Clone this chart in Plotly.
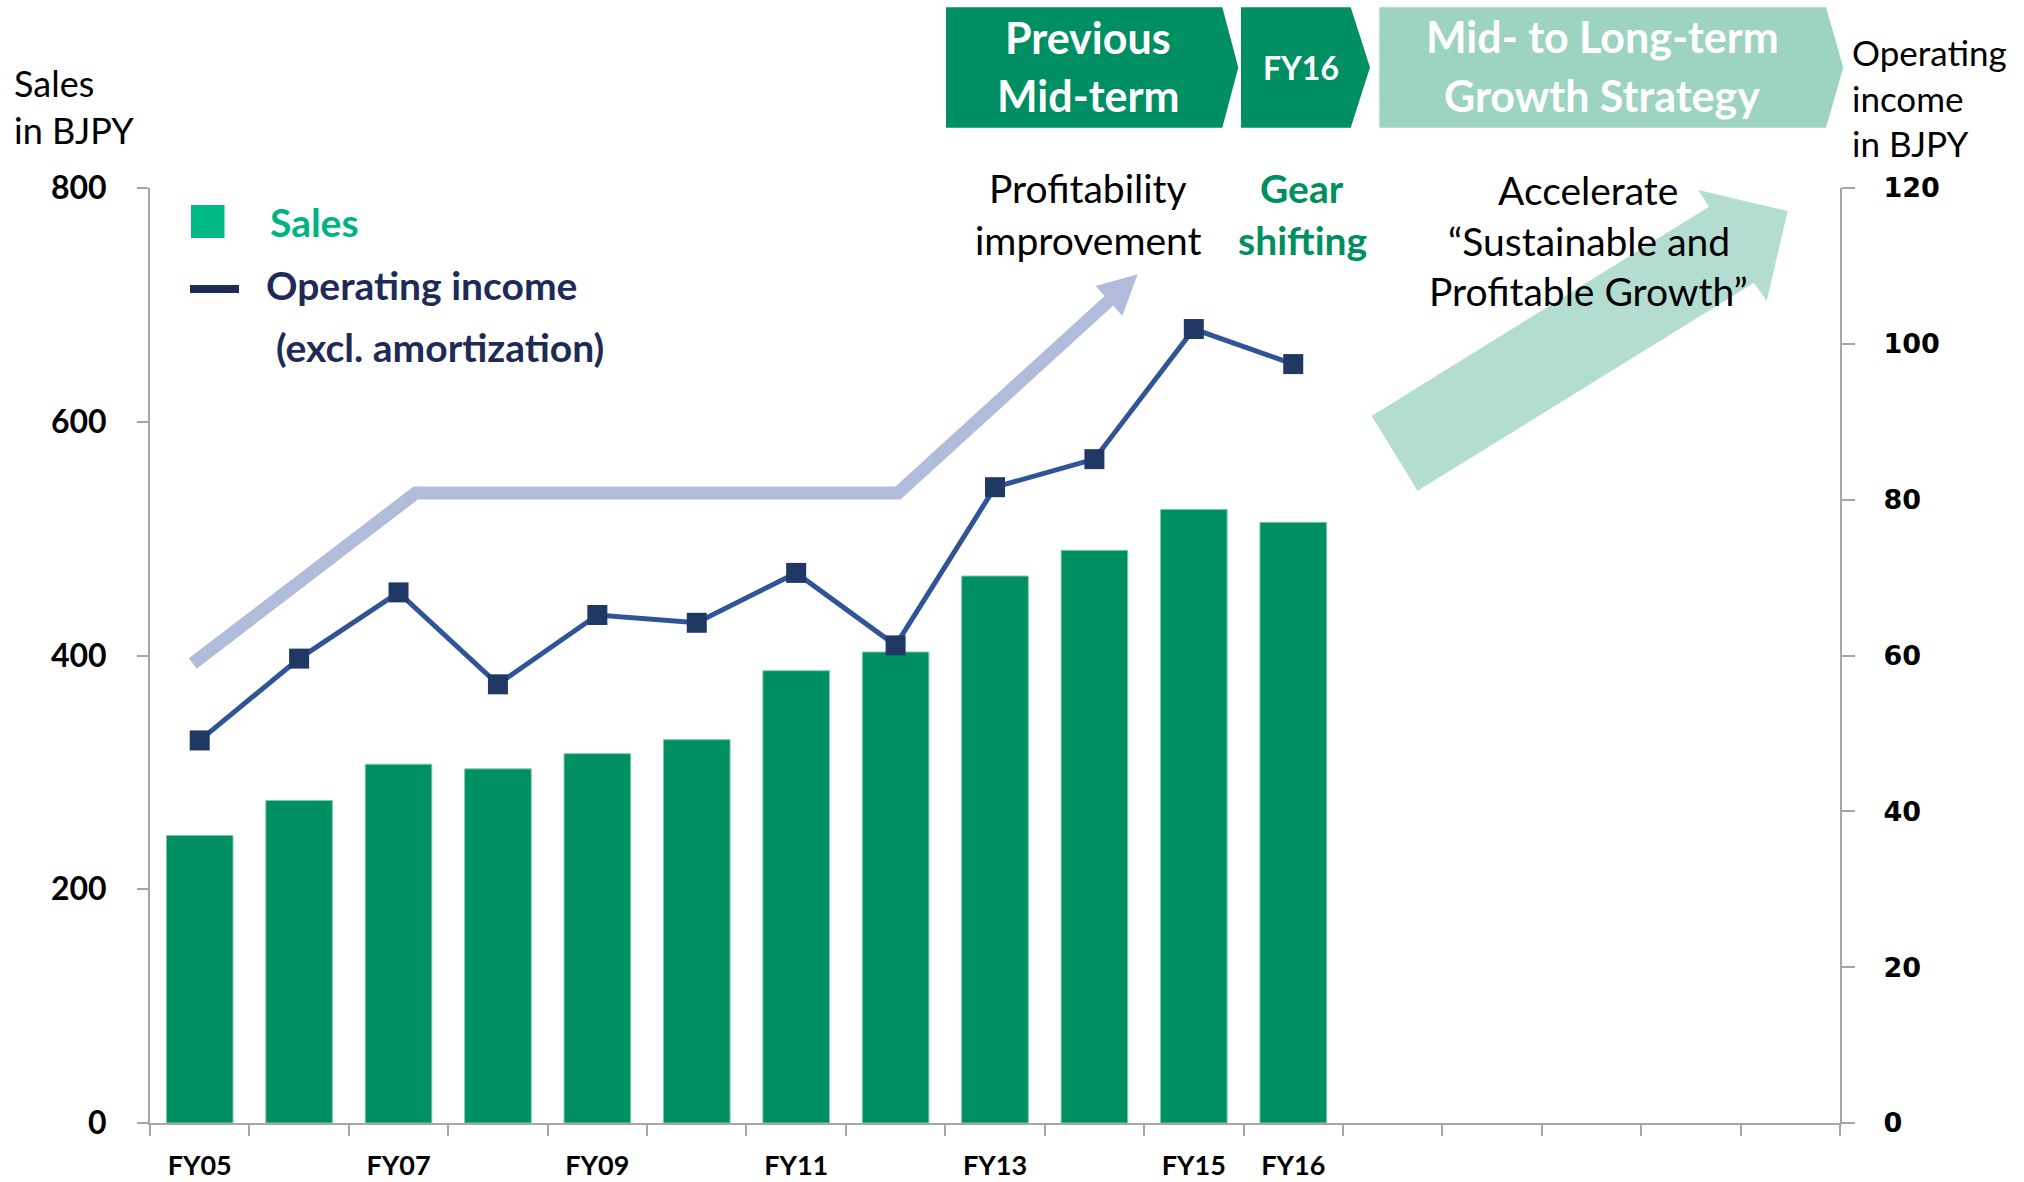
import plotly.graph_objects as go

# ---------------- data ----------------
years = ["FY05", "FY06", "FY07", "FY08", "FY09", "FY10", "FY11", "FY12", "FY13", "FY14", "FY15", "FY16"]
sales = [246, 276, 307, 303, 316, 328, 387, 403, 468, 490, 525, 514]
op_income = [49.1, 59.6, 68.1, 56.3, 65.2, 64.2, 70.6, 61.3, 81.6, 85.2, 101.9, 97.4]
tick_labels = ["FY05", "FY07", "FY09", "FY11", "FY13", "FY15", "FY16"]
sales_ticks = [0, 200, 400, 600, 800]
oi_ticks = [0, 20, 40, 60, 80, 100, 120]
n_slots = 17  # 12 fiscal years + 5 empty slots for the future strategy period

# ---------------- geometry helpers (decorations only) ----------------
W, H = 2024, 1182
ML, MR, MT, MB = 150, 184, 188, 59
PW, PH = W - ML - MR, H - MT - MB


def pxx(x):
    return (x - ML) / PW


def pxy(y):
    return (H - MB - y) / PH


GREEN = "#008F62"
NAVY = "#1F3864"
LINE_BLUE = "#2F5597"
AXIS_GRAY = "#A6A6A6"

xpos = list(range(len(years)))
tickvals = [years.index(t) for t in tick_labels]

fig = go.Figure()
fig.add_bar(
    x=xpos, y=sales, name="Sales", width=0.67,
    marker=dict(color=GREEN, line=dict(color="#7CCBAA", width=1)),
)
fig.add_scatter(
    x=xpos, y=op_income, yaxis="y2", name="Operating income (excl. amortization)",
    mode="lines+markers",
    line=dict(color=LINE_BLUE, width=5),
    marker=dict(symbol="square", size=20, color=NAVY),
)

fig.update_layout(
    width=W, height=H,
    margin=dict(l=ML, r=MR, t=MT, b=MB, autoexpand=False),
    paper_bgcolor="white", plot_bgcolor="rgba(0,0,0,0)",
    showlegend=False,
    xaxis=dict(
        range=[-0.5, n_slots - 0.5], automargin=False,
        tickmode="array", tickvals=tickvals, ticktext=tick_labels,
        ticks="", showgrid=False, zeroline=False,
        showline=True, linecolor=AXIS_GRAY, linewidth=2,
        tickfont=dict(family="Lato", size=27, color="black", weight="bold"),
        ticklabelstandoff=18,
        minor=dict(ticks="outside", tickmode="linear", tick0=-0.5, dtick=1,
                   ticklen=11, tickwidth=2, tickcolor=AXIS_GRAY, showgrid=False),
    ),
    yaxis=dict(
        range=[0, 800], tickmode="array", tickvals=sales_ticks, automargin=False,
        ticks="outside", ticklen=11, tickwidth=2, tickcolor=AXIS_GRAY,
        showline=True, linecolor=AXIS_GRAY, linewidth=2,
        showgrid=False, zeroline=False,
        tickfont=dict(family="Lato", size=32, color="black", weight="bold"),
        ticklabelstandoff=24,
    ),
    yaxis2=dict(
        overlaying="y", side="right", automargin=False,
        range=[0, 120], tickmode="array", tickvals=oi_ticks,
        ticks="outside", ticklen=13, tickwidth=2, tickcolor=AXIS_GRAY,
        showline=True, linecolor=AXIS_GRAY, linewidth=2,
        showgrid=False, zeroline=False,
        tickfont=dict(family="DejaVu Sans", size=27, color="black", weight="bold"),
        ticklabelstandoff=23,
    ),
)


# ---------------- decorations ----------------
def poly(points, fill):
    path = "M " + " L ".join(f"{pxx(x):.5f},{pxy(y):.5f}" for x, y in points) + " Z"
    fig.add_shape(type="path", path=path, xref="paper", yref="paper",
                  fillcolor=fill, line=dict(width=0, color="rgba(0,0,0,0)"), layer="below")


def text(s, x, baseline, size, color="black", bold=False, anchor="center", family="Lato", k=0.375):
    fig.add_annotation(
        text=s, xref="paper", yref="paper",
        x=pxx(x), y=pxy(baseline - k * size),
        xanchor=anchor, yanchor="middle", align=anchor, showarrow=False,
        font=dict(family=family, size=size, color=color, weight=700 if bold else 400),
    )


# header chevrons
poly([(946, 7.3), (1222.3, 7.3), (1238.3, 67.5), (1222.3, 127.7), (946, 127.7)], GREEN)
poly([(1241, 7.3), (1350.7, 7.3), (1370, 67.5), (1350.7, 127.7), (1241, 127.7)], GREEN)
poly([(1379.3, 7.3), (1826, 7.3), (1843.3, 67.5), (1826, 127.7), (1379.3, 127.7)], "#9DD3C1")

# big growth arrow
poly([(1371.7, 416), (1709, 206.7), (1698.3, 190), (1787.7, 211), (1766.7, 300.7),
      (1754, 282.7), (1417.7, 490.7)], "rgba(0,143,98,0.30)")

# profitability arrow
pts = [(192.7, 663.5), (415.7, 493), (898, 493), (1111.7, 298.3)]
fig.add_shape(type="path", xref="paper", yref="paper",
              path="M " + " L ".join(f"{pxx(x):.5f},{pxy(y):.5f}" for x, y in pts),
              line=dict(color="#B1BBDA", width=13), fillcolor="rgba(0,0,0,0)", layer="below")
poly([(1095.7, 286), (1137.7, 274.3), (1122.3, 315.7)], "#B1BBDA")

# custom legend
fig.add_shape(type="rect", xref="paper", yref="paper",
              x0=pxx(191), x1=pxx(224.5), y0=pxy(238), y1=pxy(205),
              fillcolor="#00B982", line=dict(width=0, color="rgba(0,0,0,0)"))
fig.add_shape(type="line", xref="paper", yref="paper",
              x0=pxx(190), x1=pxx(239), y0=pxy(289), y1=pxy(289),
              line=dict(color="#1F2B57", width=8))
text("Sales", 268, 237, 39, color="#00B383", bold=True, anchor="left")
text("Operating income", 264, 300, 39, color="#1F2B57", bold=True, anchor="left")
text("(excl. amortization)", 274, 362, 39, color="#1F2B57", bold=True, anchor="left")

# axis titles (multi-line, middle line baseline given)
text("Sales<br>in BJPY", 12, 120, 36, anchor="left")
text("Operating<br>income<br>in BJPY", 1850, 111, 35, anchor="left")

# header texts
text("Previous", 1088, 54, 43, color="white", bold=True)
text("Mid-term", 1088, 112, 43, color="white", bold=True)
text("FY16", 1301, 80, 32, color="white", bold=True)
text("Mid- to Long-term", 1602, 53, 43, color="white", bold=True)
text("Growth Strategy", 1602, 112, 43, color="white", bold=True)

# phase captions
text("Profitability", 1088, 203, 39)
text("improvement", 1088, 255, 39)
text("Gear", 1302, 203, 39, color=GREEN, bold=True)
text("shifting", 1302, 255, 39, color=GREEN, bold=True)
text("Accelerate", 1588, 205, 39)
text("\u201cSustainable and", 1589, 256, 39)
text("Profitable Growth\u201d", 1588, 306, 39)

fig.write_html(
    "out.html",
    config={"displayModeBar": False},
    post_script="document.body.style.margin='0';document.body.style.overflow='hidden';",
)
